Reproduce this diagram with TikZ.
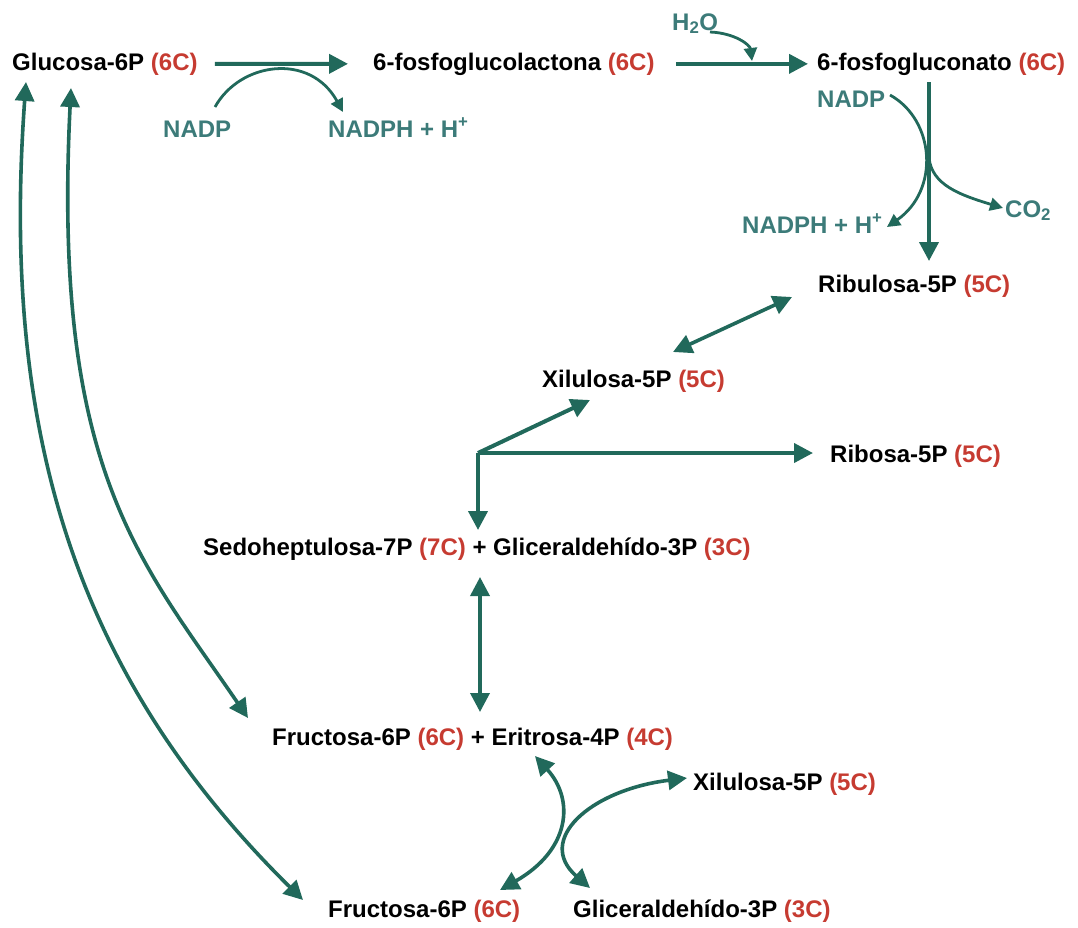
\documentclass[tikz,border=0pt]{standalone}
\usepackage{fontspec}
\setmainfont{Liberation Sans}
\usetikzlibrary{arrows.meta,calc}
\definecolor{pathgreen}{HTML}{21695B}
\definecolor{cofteal}{HTML}{3C7B79}
\definecolor{carbred}{HTML}{C63B31}
\newcommand\ncarb[1]{\textcolor{carbred}{(#1)}}

\begin{document}
\begin{tikzpicture}[x=1pt,y=-1pt,
  met/.style={anchor=base west,inner sep=0pt,font=\fontsize{24}{28}\selectfont\bfseries},
  cof/.style={met,text=cofteal},
  flow/.style={draw=pathgreen,line width=4pt,-{Triangle[length=19pt,width=19pt]}},
  twoway/.style={draw=pathgreen,line width=3.6pt,{Triangle[length=19pt,width=19pt]}-{Triangle[length=19pt,width=19pt]}},
  side/.style={draw=pathgreen,line width=2.8pt,-{Triangle[length=13pt,width=13pt]}}]
\useasboundingbox (0,0) rectangle (1078,927);

% metabolites
\node[met] (g6p)   at (12,70)  {Glucosa-6P \ncarb{6C}};
\node[met] (lac)   at (373,70) {6-fosfoglucolactona \ncarb{6C}};
\node[met] (gcn)   at (817,70) {6-fosfogluconato \ncarb{6C}};
\node[met] (ru5p)  at (818,292) {Ribulosa-5P \ncarb{5C}};
\node[met] (xu5pa) at (542,387) {Xilulosa-5P \ncarb{5C}};
\node[met] (r5p)   at (830,462) {Ribosa-5P \ncarb{5C}};
\node[met] (s7p)   at (203,555) {Sedoheptulosa-7P \ncarb{7C} + Gliceraldehído-3P \ncarb{3C}};
\node[met] (f6pe)  at (272,745) {Fructosa-6P \ncarb{6C} + Eritrosa-4P \ncarb{4C}};
\node[met] (xu5pb) at (693,790) {Xilulosa-5P \ncarb{5C}};
\node[met] (f6p)   at (328,917) {Fructosa-6P \ncarb{6C}};
\node[met] (gap)   at (573,917) {Gliceraldehído-3P \ncarb{3C}};

% cofactors
\node[cof] (nadpa)  at (163,137) {NADP};
\node[cof] (nadpha) at (328,137) {NADPH + H\textsuperscript{+}};
\node[cof] (water)  at (672,30)  {H\textsubscript{2}O};
\node[cof] (nadpb)  at (817,107) {NADP};
\node[cof] (nadphb) at (742,233) {NADPH + H\textsuperscript{+}};
\node[cof] (co2)    at (1005,217) {CO\textsubscript{2}};

% oxidative branch
\draw[flow,shorten <=17pt,shorten >=25pt] (g6p.east) -- (lac.west);
\draw[flow,shorten <=21pt,shorten >=9pt] (lac.east) -- (gcn.west);
\coordinate (dtop) at (929,82);
\coordinate (dbot) at (929,261);
\draw[flow] (dtop) -- (dbot);

\coordinate (na1) at (215,107);
\coordinate (na2) at (343,112);
\draw[side] (na1) .. controls (240,62) and (310,52) .. (na2);
\coordinate (w1) at (710,32);
\coordinate (w2) at (752,61);
\draw[side] (w1) .. controls (735,33) and (750,45) .. (w2);
\coordinate (nb1) at (890,95);
\coordinate (nb2) at (887,227);
\draw[side] (nb1) .. controls (935,120) and (940,190) .. (nb2);
\coordinate (cx) at (929,158);
\coordinate (cc) at (1003,208);
\draw[side] (cx) .. controls (932,185) and (960,195) .. (cc);

% non-oxidative branch
\coordinate (ruA) at (792,297);
\coordinate (xuA) at (673,352);
\draw[twoway] (ruA) -- (xuA);
\coordinate (br) at (478,453);
\coordinate (brx) at (590,400);
\coordinate (brr) at (813,453);
\coordinate (brs) at (478,530);
\draw[flow] (br) -- (brx);
\draw[flow] (br) -- (brr);
\draw[flow] (br) -- (brs);
\coordinate (sA) at (480,577);
\coordinate (fA) at (480,712);
\draw[twoway] (sA) -- (fA);

% exchange with fructose and triose
\coordinate (feA) at (535,756);
\coordinate (fbA) at (500,890);
\draw[twoway] (feA) .. controls (575,800) and (570,850) .. (fbA);
\coordinate (xbA) at (687,778);
\coordinate (gA) at (590,888);
\draw[twoway] (xbA) .. controls (590,790) and (535,840) .. (gA);

% return to glucose-6P
\coordinate (g1) at (26,82);
\coordinate (g2) at (71,88);
\coordinate (fb) at (303,900);
\coordinate (fe) at (248,718);
\draw[twoway] (g1) .. controls (0,440) and (80,680) .. (fb);
\draw[twoway] (g2) .. controls (52,470) and (140,560) .. (fe);
\end{tikzpicture}
\end{document}
